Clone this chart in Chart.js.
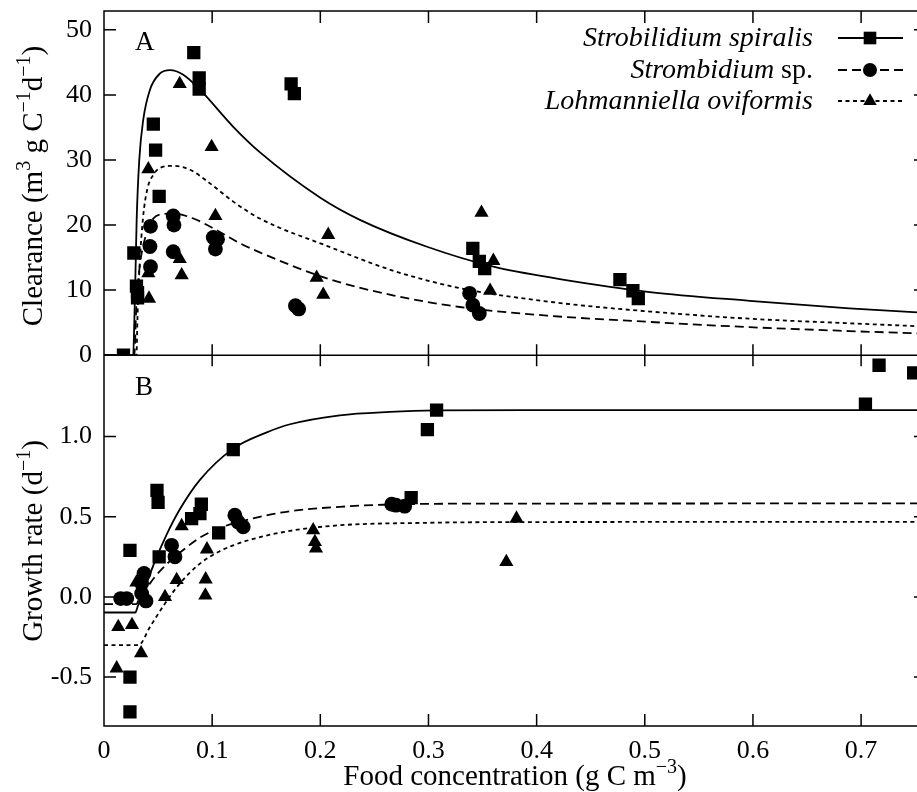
<!DOCTYPE html>
<html>
<head>
<meta charset="utf-8">
<script src="https://cdn.jsdelivr.net/npm/chart.js@4.4.1/dist/chart.umd.min.js"></script>
<style>
    html, body { margin: 0; padding: 0; background: #fff; overflow: hidden; }
    #wrap { width: 930px; height: 792px; }
</style>
</head>
<body>
<div id="wrap"><canvas id="chart" width="930" height="792"></canvas></div>
<script>
/**==========================
      Data
==========================*/

// panel A : clearance (m3 gC-1 d-1) vs food concentration (gC m-3)
const clrSpiralisX = [0.018, 0.0276, 0.030, 0.031, 0.031, 0.0456, 0.0477, 0.051, 0.083, 0.088, 0.088, 0.173, 0.176, 0.341, 0.347, 0.352, 0.477, 0.489, 0.494];
const clrSpiralisY = [0, 15.7, 10.6, 9.6, 8.8, 35.5, 31.5, 24.4, 46.5, 42.6, 40.9, 41.7, 40.2, 16.4, 14.4, 13.3, 11.6, 9.9, 8.7];

const clrStrombX = [0.043, 0.0425, 0.043, 0.064, 0.0647, 0.064, 0.101, 0.103, 0.105, 0.177, 0.180, 0.338, 0.341, 0.347];
const clrStrombY = [19.8, 16.7, 13.6, 21.4, 20.0, 15.9, 18.1, 16.3, 17.8, 7.6, 7.1, 9.5, 7.7, 6.4];

const clrLohmX = [0.0416, 0.041, 0.041, 0.070, 0.0718, 0.070, 0.0995, 0.103, 0.1966, 0.2027, 0.2073, 0.349, 0.357, 0.360];
const clrLohmY = [8.7, 12.6, 28.6, 41.7, 12.3, 14.8, 32.0, 21.4, 11.9, 9.3, 18.5, 21.9, 9.9, 14.5];

// fitted curves, panel A
const fitClrSpiralisX = [0, 0.027, 0.028, 0.0287, 0.0302, 0.0326, 0.0363, 0.0425, 0.0518, 0.061, 0.0733, 0.0887, 0.1195, 0.144, 0.2, 0.2366, 0.298, 0.36, 0.4214, 0.5046, 0.597, 0.689, 0.76];
const fitClrSpiralisY = [0, 0, 5, 9.5, 20.8, 30, 36.2, 40.8, 43.3, 43.8, 43.1, 40.8, 35.1, 31.2, 24.2, 20.8, 16.7, 13.6, 11.7, 9.7, 8.35, 7.2, 6.5];

const fitClrStrombX = [0, 0.028, 0.030, 0.033, 0.038, 0.0456, 0.055, 0.064, 0.0826, 0.101, 0.1257, 0.144, 0.206, 0.267, 0.329, 0.412, 0.505, 0.597, 0.689, 0.76];
const fitClrStrombY = [0, 0, 8, 13.6, 18, 21.0, 21.7, 21.8, 21.0, 19.5, 17.2, 15.8, 11.8, 9.2, 7.4, 6.05, 5.1, 4.3, 3.7, 3.3];

const fitClrLohmX = [0, 0.030, 0.031, 0.033, 0.036, 0.040, 0.046, 0.052, 0.064, 0.0795, 0.098, 0.1195, 0.144, 0.206, 0.267, 0.329, 0.412, 0.505, 0.597, 0.689, 0.76];
const fitClrLohmY = [0, 0, 6, 14, 21, 25.5, 27.8, 28.8, 29.1, 28.5, 26.4, 23.6, 21.0, 16.8, 13.0, 10.3, 8.2, 6.7, 5.6, 4.9, 4.4];

// panel B : growth rate (d-1) vs food concentration
const grSpiralisX = [0.024, 0.024, 0.024, 0.049, 0.050, 0.051, 0.081, 0.0887, 0.090, 0.106, 0.1195, 0.284, 0.299, 0.3075, 0.704, 0.7166, 0.7486];
const grSpiralisY = [-0.717, -0.50, 0.291, 0.665, 0.59, 0.25, 0.489, 0.52, 0.578, 0.40, 0.919, 0.62, 1.044, 1.165, 1.202, 1.445, 1.397];

const grStrombX = [0.0154, 0.021, 0.0348, 0.0348, 0.037, 0.0388, 0.0625, 0.0656, 0.121, 0.124, 0.1287, 0.266, 0.270, 0.278];
const grStrombY = [-0.01, -0.01, 0.083, 0.021, 0.146, -0.025, 0.322, 0.25, 0.51, 0.468, 0.437, 0.578, 0.572, 0.566];

const grLohmX = [0.0117, 0.0132, 0.0259, 0.030, 0.0343, 0.0564, 0.0672, 0.0718, 0.0937, 0.0940, 0.0952, 0.1934, 0.195, 0.196, 0.372, 0.3814];
const grLohmY = [-0.445, -0.187, -0.175, 0.09, -0.351, 0.0, 0.106, 0.442, 0.01, 0.11, 0.297, 0.416, 0.343, 0.302, 0.218, 0.489];

// fitted curves, panel B
const fitGrSpiralisX = [0, 0.029, 0.031, 0.038, 0.047, 0.058, 0.070, 0.0887, 0.1195, 0.150, 0.172, 0.218, 0.264, 0.3075, 0.4, 0.76];
const fitGrSpiralisY = [-0.097, -0.097, -0.063, 0.06, 0.22, 0.39, 0.545, 0.73, 0.925, 1.025, 1.077, 1.133, 1.154, 1.163, 1.165, 1.165];

const fitGrStrombX = [0, 0.030, 0.032, 0.040, 0.047, 0.058, 0.070, 0.0887, 0.107, 0.138, 0.172, 0.218, 0.258, 0.35, 0.76];
const fitGrStrombY = [-0.045, -0.045, -0.02, 0.06, 0.125, 0.205, 0.275, 0.37, 0.43, 0.49, 0.535, 0.562, 0.575, 0.582, 0.583];

const fitGrLohmX = [0, 0.032, 0.0425, 0.0564, 0.070, 0.0887, 0.107, 0.1195, 0.138, 0.172, 0.218, 0.295, 0.4, 0.76];
const fitGrLohmY = [-0.30, -0.30, -0.187, -0.041, 0.083, 0.208, 0.285, 0.322, 0.362, 0.412, 0.447, 0.462, 0.467, 0.468];

// legend
const speciesNames = [['Strobilidium spiralis', ''], ['Strombidium', ' sp.'], ['Lohmanniella oviformis', '']];
const speciesMarkers = ['rect', 'circle', 'triangle'];
const speciesDash = [[], [9, 5], [4, 3.5]];

const SERIF = '"Liberation Serif", "Times New Roman", serif';
const MARKER_R = { rect: 9.4, circle: 7.4, triangle: 8.2 };

/**==========================
      helpers
==========================*/

const pts = (xs, ys) => xs.map((x, i) => ({ x: x, y: ys[i] }));

function scatter_set(label, xs, ys, axis, style) {
    return {
        type: 'scatter', label: label, data: pts(xs, ys), yAxisID: axis,
        pointStyle: style, pointRadius: MARKER_R[style], pointHoverRadius: MARKER_R[style],
        pointBackgroundColor: '#000', pointBorderWidth: 0, showLine: false, order: 1
    };
}

function curve_set(label, xs, ys, axis, dash) {
    return {
        type: 'line', label: label, data: pts(xs, ys), yAxisID: axis,
        borderColor: '#000', borderWidth: 1.8, borderDash: dash, pointRadius: 0,
        fill: false, cubicInterpolationMode: 'monotone', order: 2
    };
}

// segments: [text, mode] with mode '' | 'i' (italic) | 's' (superscript)
function seg_font(mode, size) {
    if (mode === 's') return Math.round(size * 0.68) + 'px ' + SERIF;
    if (mode === 'i') return 'italic ' + size + 'px ' + SERIF;
    return size + 'px ' + SERIF;
}

function rich_width(ctx, segs, size) {
    let w = 0;
    segs.forEach(s => { ctx.font = seg_font(s[1], size); w += ctx.measureText(s[0]).width; });
    return w;
}

function draw_rich(ctx, segs, x, y, size) {
    ctx.textAlign = 'left';
    ctx.textBaseline = 'alphabetic';
    let cx = x;
    segs.forEach(s => {
        ctx.font = seg_font(s[1], size);
        ctx.fillText(s[0], cx, s[1] === 's' ? y - size * 0.42 : y);
        cx += ctx.measureText(s[0]).width;
    });
}

/**==========================
      frame, ticks and labels
==========================*/

const framePlugin = {
    id: 'frame',
    beforeDatasetsDraw(chart) {
        const { ctx, chartArea: ca, scales } = chart;
        const xs = scales.x, ya = scales.yA, yb = scales.yB;
        const t = 12;

        ctx.save();
        ctx.strokeStyle = '#000';
        ctx.lineWidth = 1.5;
        ctx.beginPath();
        ctx.rect(ca.left, ya.top, ca.right - ca.left, yb.bottom - ya.top);
        ctx.moveTo(ca.left, ya.bottom);
        ctx.lineTo(ca.right, ya.bottom);

        xs.ticks.forEach(tk => {
            let px = xs.getPixelForValue(tk.value);
            ctx.moveTo(px, ya.top); ctx.lineTo(px, ya.top + t);
            ctx.moveTo(px, ya.bottom - 11); ctx.lineTo(px, ya.bottom + 11);
            ctx.moveTo(px, yb.bottom); ctx.lineTo(px, yb.bottom - t);
        });
        [ya, yb].forEach(sc => {
            sc.ticks.forEach(tk => {
                let py = sc.getPixelForValue(tk.value);
                ctx.moveTo(ca.left, py); ctx.lineTo(ca.left + t, py);
                ctx.moveTo(ca.right, py); ctx.lineTo(ca.right - t, py);
            });
        });
        ctx.stroke();
        ctx.restore();
    },
    afterDraw(chart) {
        const { ctx, chartArea: ca, scales } = chart;
        const ya = scales.yA, yb = scales.yB;
        ctx.save();
        ctx.fillStyle = '#000';

        // axis titles
        let size = 29;
        let titleA = [['Clearance (m', ''], ['3', 's'], [' g C', ''], ['\u22121', 's'], ['d', ''], ['\u22121', 's'], [')', '']];
        let titleB = [['Growth rate (d', ''], ['\u22121', 's'], [')', '']];
        [[titleA, 186], [titleB, 541]].forEach(item => {
            let w = rich_width(ctx, item[0], size);
            ctx.save();
            ctx.translate(42, item[1]);
            ctx.rotate(-Math.PI / 2);
            draw_rich(ctx, item[0], -w / 2, 0, size);
            ctx.restore();
        });

        let titleX = [['Food concentration (g C m', ''], ['\u22123', 's'], [')', '']];
        let wx = rich_width(ctx, titleX, size);
        draw_rich(ctx, titleX, 515 - wx / 2, 785, size);

        // panel letters
        ctx.font = '27px ' + SERIF;
        ctx.textAlign = 'left';
        ctx.textBaseline = 'alphabetic';
        ctx.fillText('A', 135, ya.top + 39);
        ctx.fillText('B', 135, yb.top + 40);

        // legend
        let rowY = [38, 70, 101];
        speciesNames.forEach((nm, i) => {
            let y = rowY[i];
            let segs = [[nm[0], 'i'], [nm[1], '']];
            let w = rich_width(ctx, segs, 28);
            draw_rich(ctx, segs, 813 - w, y + 8, 28);

            ctx.save();
            ctx.strokeStyle = '#000';
            ctx.lineWidth = 1.8;
            ctx.setLineDash(speciesDash[i]);
            ctx.beginPath();
            ctx.moveTo(838, y);
            ctx.lineTo(903, y);
            ctx.stroke();
            ctx.restore();

            ctx.fillStyle = '#000';
            Chart.helpers.drawPoint(ctx, {
                pointStyle: speciesMarkers[i], radius: MARKER_R[speciesMarkers[i]] * 0.95,
                rotation: 0, borderWidth: 0
            }, 870, y);
        });
        ctx.restore();
    }
};

/**==========================
      chart
==========================*/

const tickFont = { family: SERIF, size: 26 };

function y_axis(min, max, step, weight, fmt) {
    return {
        type: 'linear', position: 'left', stack: 'panels', stackWeight: weight,
        min: min, max: max,
        grid: { display: false, drawTicks: false },
        border: { display: false },
        ticks: { stepSize: step, includeBounds: false, padding: 12, color: '#000', font: tickFont, callback: fmt },
        afterBuildTicks: s => { s.ticks = s.ticks.filter(tk => tk.value <= (max > 10 ? 50 : 1.0001)); },
        afterFit: s => { s.width = 104; s.paddingTop = 0; s.paddingBottom = 0; }
    };
}

new Chart(document.getElementById('chart'), {
    type: 'scatter',
    data: {
        datasets: [
            curve_set('fitA1', fitClrSpiralisX, fitClrSpiralisY, 'yA', speciesDash[0]),
            curve_set('fitA2', fitClrStrombX, fitClrStrombY, 'yA', speciesDash[1]),
            curve_set('fitA3', fitClrLohmX, fitClrLohmY, 'yA', speciesDash[2]),
            curve_set('fitB1', fitGrSpiralisX, fitGrSpiralisY, 'yB', speciesDash[0]),
            curve_set('fitB2', fitGrStrombX, fitGrStrombY, 'yB', speciesDash[1]),
            curve_set('fitB3', fitGrLohmX, fitGrLohmY, 'yB', speciesDash[2]),
            scatter_set('A1', clrSpiralisX, clrSpiralisY, 'yA', 'rect'),
            scatter_set('A2', clrStrombX, clrStrombY, 'yA', 'circle'),
            scatter_set('A3', clrLohmX, clrLohmY, 'yA', 'triangle'),
            scatter_set('B1', grSpiralisX, grSpiralisY, 'yB', 'rect'),
            scatter_set('B2', grStrombX, grStrombY, 'yB', 'circle'),
            scatter_set('B3', grLohmX, grLohmY, 'yB', 'triangle')
        ]
    },
    options: {
        responsive: false,
        animation: false,
        devicePixelRatio: 1,
        layout: { autoPadding: false, padding: { top: 11, right: 4, left: 0, bottom: 0 } },
        plugins: { legend: { display: false }, tooltip: { enabled: false }, title: { display: false } },
        scales: {
            x: {
                type: 'linear', position: 'bottom', min: 0, max: 0.76,
                grid: { display: false, drawTicks: false },
                border: { display: false },
                ticks: {
                    stepSize: 0.1, includeBounds: false, padding: 10, autoSkip: false, maxRotation: 0,
                    color: '#000', font: tickFont,
                    callback: v => (Math.abs(v) < 1e-9 ? '0' : v.toFixed(1))
                },
                afterFit: s => { s.height = 66; s.paddingLeft = 0; s.paddingRight = 0; }
            },
            yB: y_axis(-0.805, 1.508, 0.5, 370.7, v => v.toFixed(1)),
            yA: y_axis(0, 52.9, 10, 344, v => String(Math.round(v)))
        }
    },
    plugins: [framePlugin]
});
</script>
</body>
</html>
